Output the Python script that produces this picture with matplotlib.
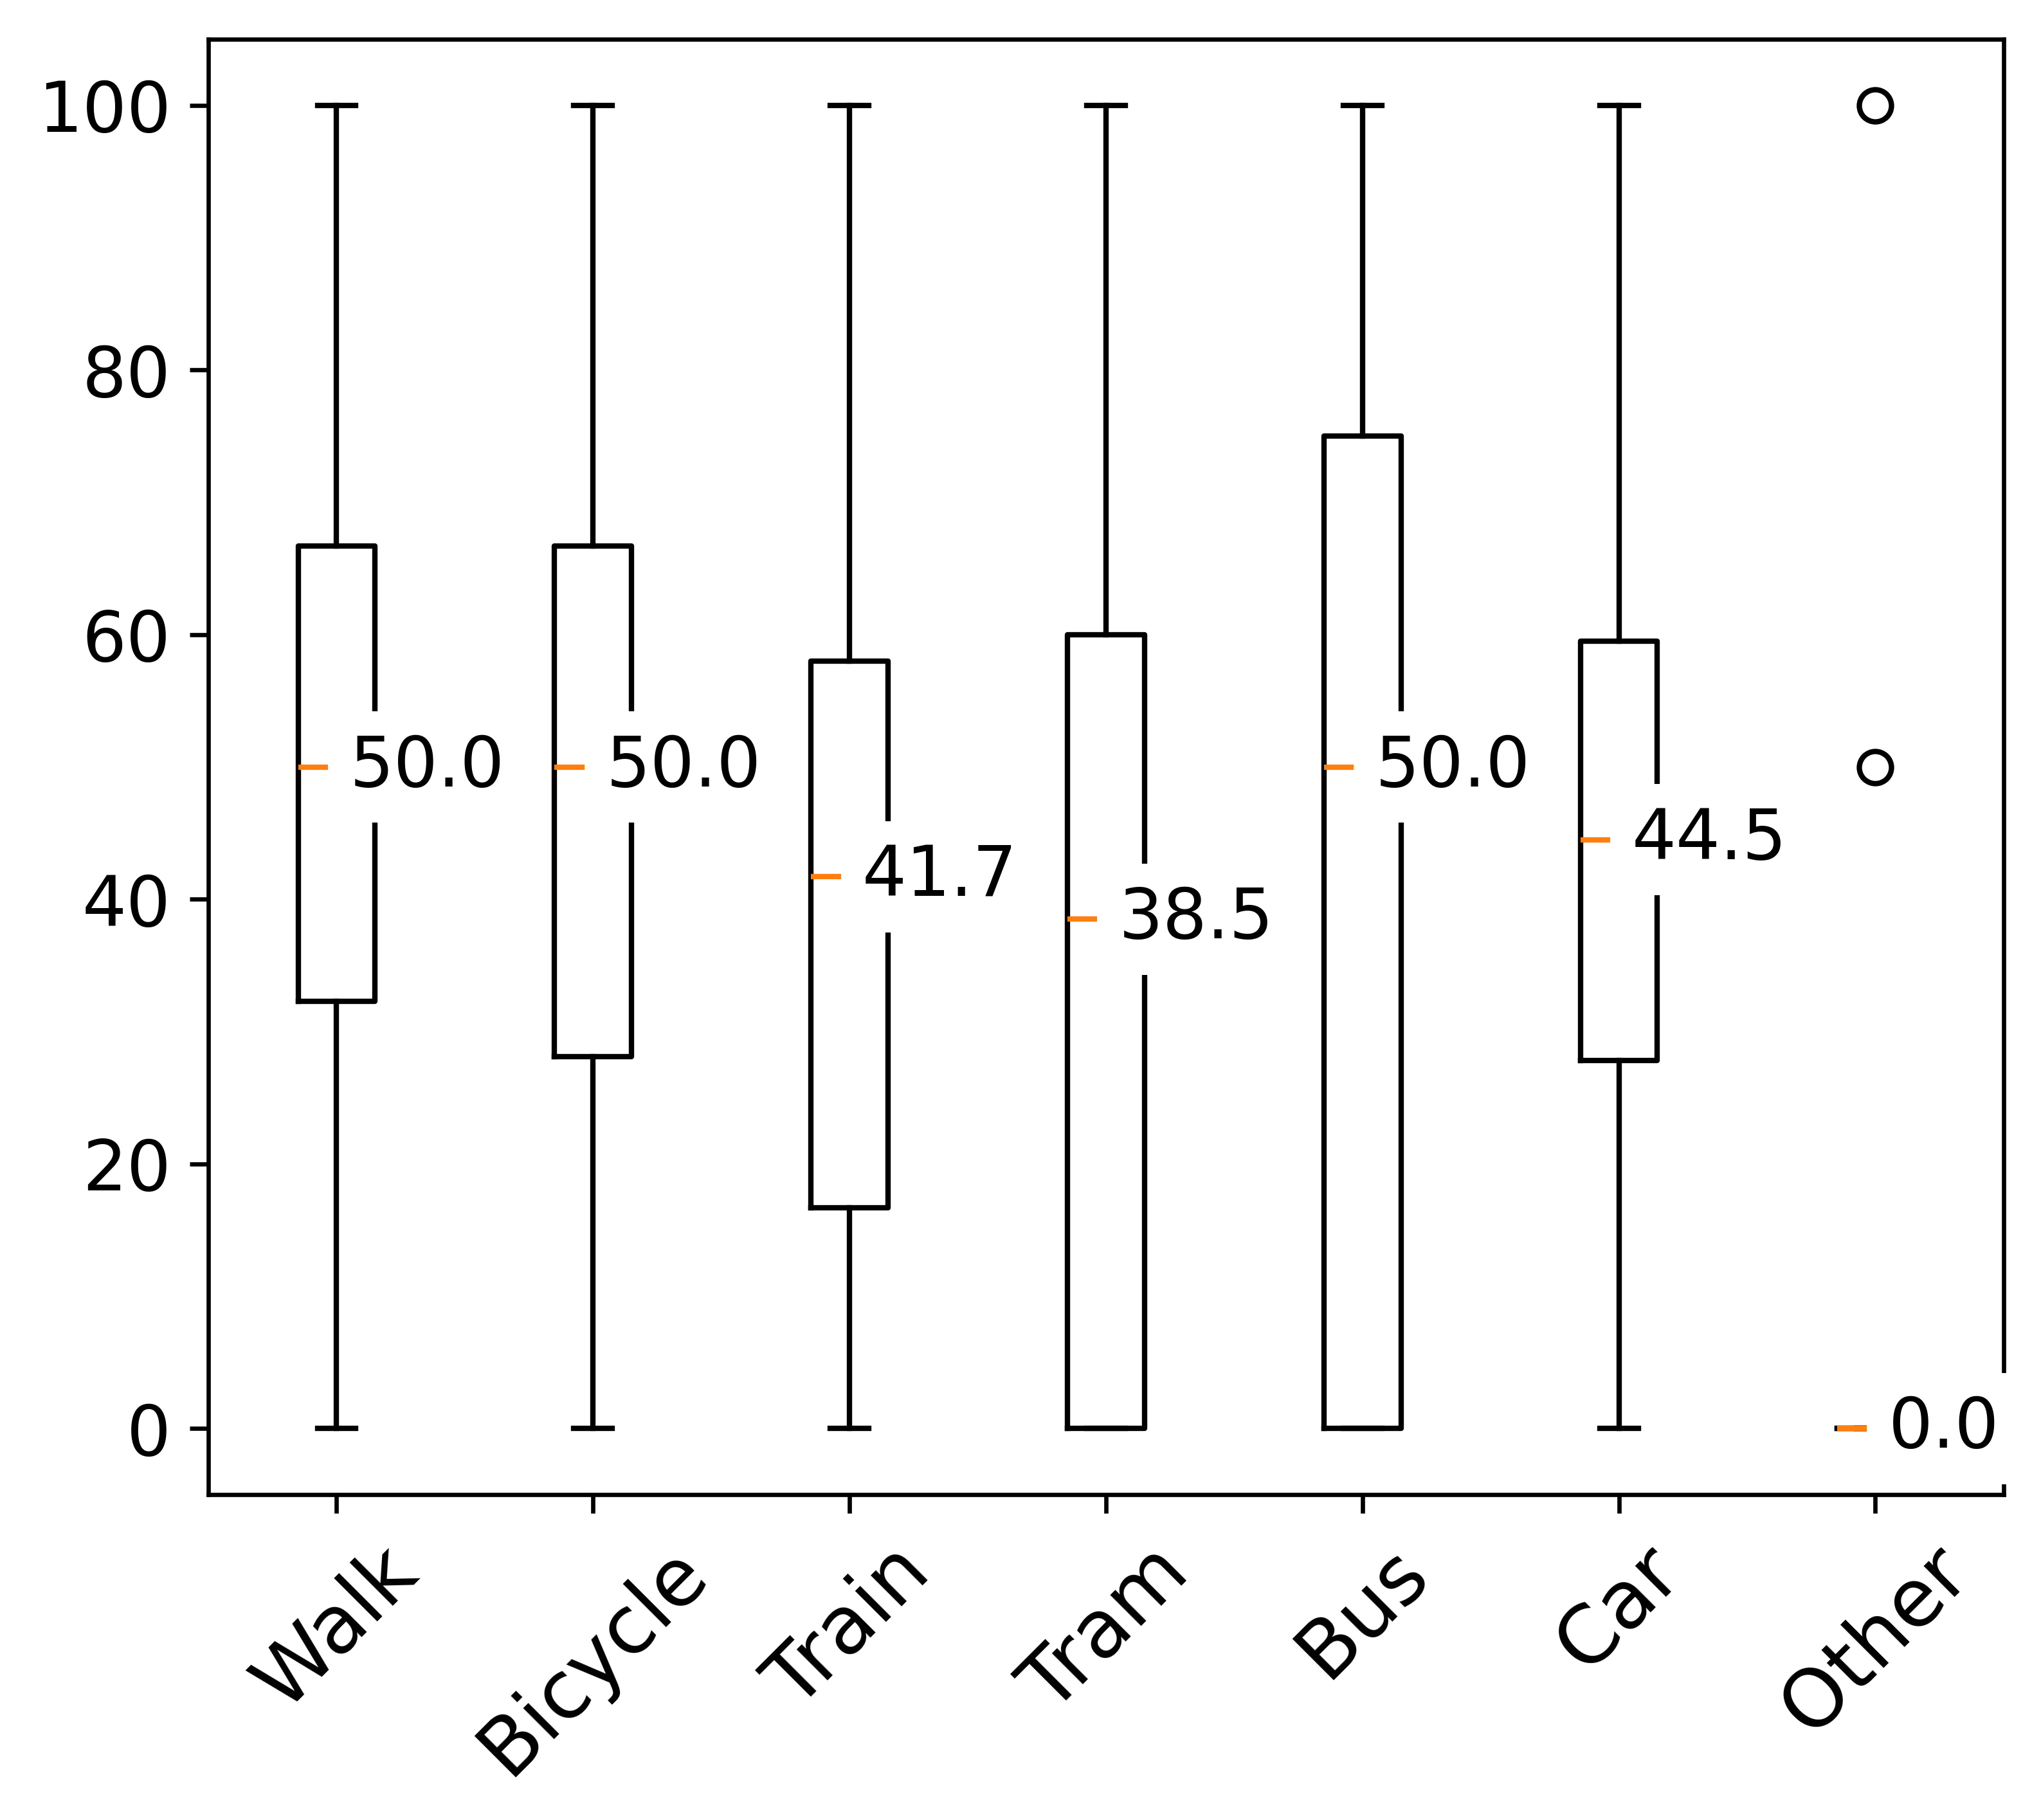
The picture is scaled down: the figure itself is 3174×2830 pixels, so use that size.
import matplotlib
matplotlib.use("Agg")
import matplotlib.pyplot as plt

labels = ['Walk', 'Bicycle', 'Train', 'Tram', 'Bus', 'Car', 'Other']
q1 = [32.3, 28.1, 16.7, 0.0, 0.0, 27.8, 0.0]
medians = [50.0, 50.0, 41.7, 38.5, 50.0, 44.5, 0.0]
q3 = [66.7, 66.7, 58.0, 60.0, 75.0, 59.5, 0.0]
whislo = [0, 0, 0, 0, 0, 0, 0]
whishi = [100, 100, 100, 100, 100, 100, 0]
fliers = [[], [], [], [], [], [], [50, 100]]

stats = []
for i in range(len(labels)):
    stats.append(dict(label=labels[i], q1=q1[i], med=medians[i], q3=q3[i],
                      whislo=whislo[i], whishi=whishi[i], fliers=fliers[i]))

fig = plt.figure(figsize=(3174 / 600, 2830 / 600), dpi=600)
ax = fig.add_axes([0.1021, 0.1788, 0.8796, 0.7996])

positions = list(range(1, len(labels) + 1))
ax.bxp(stats, positions=positions, widths=0.3)

# median values next to each box
for pos, m in zip(positions, medians):
    ax.text(pos + 0.05, m, f'{m:.1f}', ha='left', va='center', fontsize=13,
            bbox=dict(facecolor='white', edgecolor='none'))

ax.tick_params(axis='y', labelsize=13)
ax.tick_params(axis='x', labelsize=15)
plt.setp(ax.get_xticklabels(), rotation=45)

fig.savefig('out.png', dpi=600)
